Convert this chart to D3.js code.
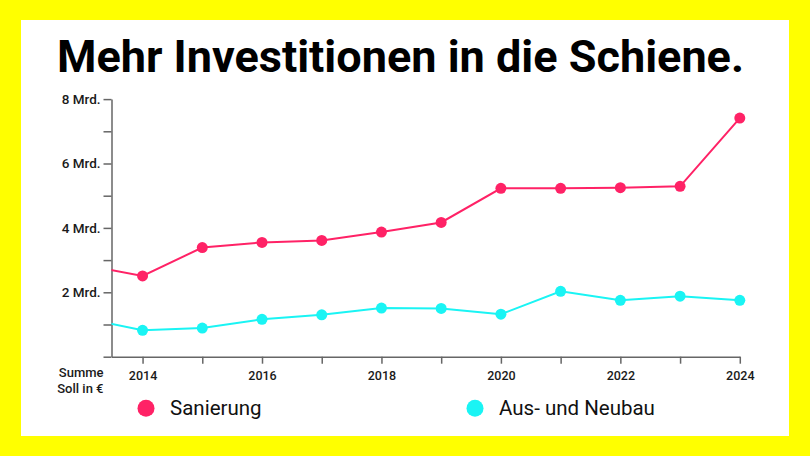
<!DOCTYPE html>
<html>
<head>
<meta charset="utf-8">
<script src="https://cdn.jsdelivr.net/npm/d3@7"></script>
<style>
  html, body { margin: 0; padding: 0; background: #ffff00; }
  svg { display: block; }
</style>
</head>
<body>
<svg id="chart" width="810" height="456"></svg>
<script>
// ---- data ----
const years = [2013, 2014, 2015, 2016, 2017, 2018, 2019, 2020, 2021, 2022, 2023, 2024];
const sanierung = [2.85, 2.51, 3.39, 3.55, 3.61, 3.87, 4.17, 5.23, 5.23, 5.25, 5.29, 7.41];
const neubau    = [1.20, 0.82, 0.89, 1.16, 1.30, 1.51, 1.50, 1.32, 2.03, 1.75, 1.88, 1.75];
const yTickValues = [0, 1, 2, 3, 4, 5, 6, 7, 8];
const yTickLabels = {2: "2 Mrd.", 4: "4 Mrd.", 6: "6 Mrd.", 8: "8 Mrd."};
const xTickValues = [2014, 2015, 2016, 2017, 2018, 2019, 2020, 2021, 2022, 2023, 2024];
const xTickLabels = {2014: "2014", 2016: "2016", 2018: "2018", 2020: "2020", 2022: "2022", 2024: "2024"};
const seriesNames = ["Sanierung", "Aus- und Neubau"];
const titleText = "Mehr Investitionen in die Schiene.";
const axisNote = ["Summe", "Soll in €"];
const xDomain = [2013.48, 2024];
const yDomain = [0, 8];

// ---- layout ----
const colors = ["#ff2266", "#1af4f4"];
const svg = d3.select("#chart");
const font = "Roboto, 'Liberation Sans', Arial, sans-serif";

svg.append("rect").attr("width", 810).attr("height", 456).attr("fill", "#ffff00");
svg.append("rect").attr("x", 21).attr("y", 20).attr("width", 768).attr("height", 416).attr("fill", "#ffffff");

svg.append("text")
  .attr("x", 57).attr("y", 72)
  .attr("font-family", font).attr("font-weight", 700).attr("font-size", 44)
  .attr("textLength", 687).attr("lengthAdjust", "spacingAndGlyphs")
  .attr("fill", "#000")
  .text(titleText);

const x = d3.scaleLinear().domain(xDomain).range([111.5, 739.8]);
const y = d3.scaleLinear().domain(yDomain).range([356.7, 99.1]);

// clip
svg.append("clipPath").attr("id", "plotclip")
  .append("rect").attr("x", x.range()[0]).attr("y", 80)
  .attr("width", x.range()[1] - x.range()[0] + 20).attr("height", 290);

// axes
const yAxis = d3.axisLeft(y).tickValues(yTickValues).tickSize(8).tickSizeOuter(0)
  .tickFormat(d => yTickLabels[d] || "");
const gy = svg.append("g").attr("transform", `translate(${x.range()[0]},0)`).call(yAxis);
gy.select(".domain").attr("stroke", "#666").attr("stroke-width", 1.5);
gy.selectAll(".tick line").attr("stroke", "#666").attr("stroke-width", 1.5);
gy.selectAll(".tick text").attr("x", -11).attr("font-family", font).attr("font-weight", 500)
  .attr("font-size", 13.5).attr("fill", "#1a1a1a");

const xAxis = d3.axisBottom(x).tickValues(xTickValues).tickSize(7).tickSizeOuter(0)
  .tickFormat(d => xTickLabels[d] || "");
const gx = svg.append("g").attr("transform", `translate(0,${y.range()[0]})`).call(xAxis);
gx.select(".domain").attr("stroke", "#666").attr("stroke-width", 1.5);
gx.selectAll(".tick line").attr("stroke", "#666").attr("stroke-width", 1.5);
gx.selectAll(".tick text").attr("y", 14).attr("font-family", font).attr("font-weight", 500)
  .attr("font-size", 12.5).attr("fill", "#1a1a1a");

// axis note
svg.append("text").attr("x", 103.5).attr("y", 377).attr("text-anchor", "end")
  .attr("font-family", font).attr("font-weight", 500).attr("font-size", 13).attr("fill", "#1a1a1a")
  .text(axisNote[0]);
svg.append("text").attr("x", 103.5).attr("y", 392.5).attr("text-anchor", "end")
  .attr("font-family", font).attr("font-weight", 500).attr("font-size", 13).attr("fill", "#1a1a1a")
  .text(axisNote[1]);

// lines
const series = [sanierung, neubau];
const line = d3.line().x((d, i) => x(years[i])).y(d => y(d));
const plot = svg.append("g").attr("clip-path", "url(#plotclip)");
series.forEach((vals, si) => {
  plot.append("path").datum(vals).attr("d", line)
    .attr("fill", "none").attr("stroke", colors[si]).attr("stroke-width", 2);
});
series.forEach((vals, si) => {
  plot.selectAll(null)
    .data(vals.map((v, i) => ({yr: years[i], v})).filter(d => d.yr >= xTickValues[0]))
    .enter().append("circle")
    .attr("cx", d => x(d.yr)).attr("cy", d => y(d.v)).attr("r", 5.5)
    .attr("fill", colors[si]);
});

// legend
const legendX = [146, 475];
seriesNames.forEach((name, i) => {
  svg.append("circle").attr("cx", legendX[i]).attr("cy", 408.3).attr("r", 8.5).attr("fill", colors[i]);
  svg.append("text").attr("x", legendX[i] + 24).attr("y", 415)
    .attr("font-family", font).attr("font-weight", 400).attr("font-size", 20.5).attr("fill", "#111")
    .text(name);
});
</script>
</body>
</html>
